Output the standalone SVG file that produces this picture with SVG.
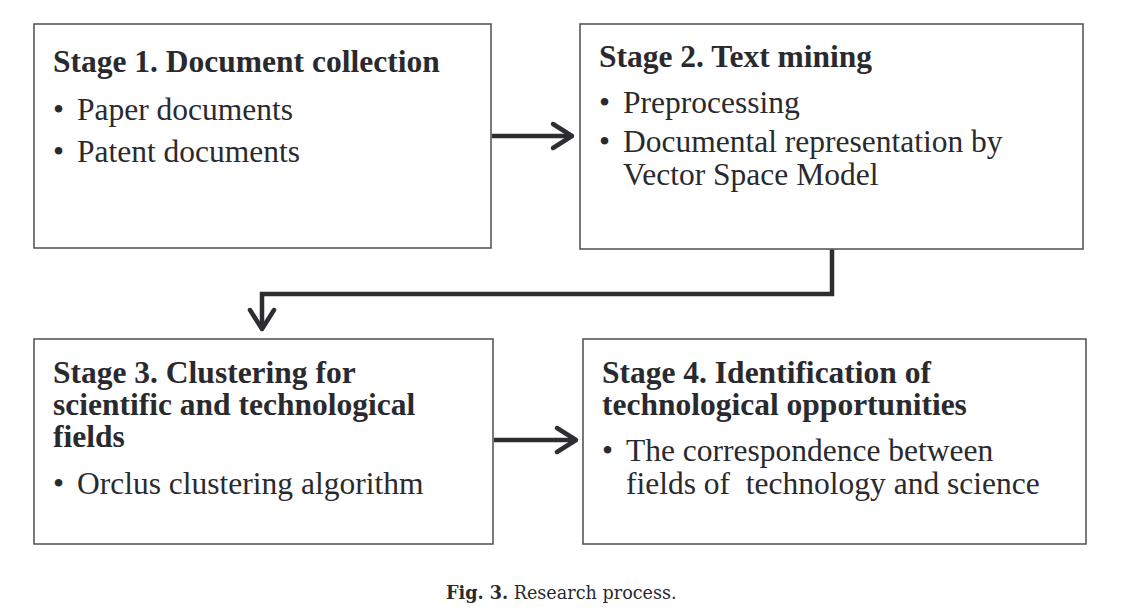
<svg xmlns="http://www.w3.org/2000/svg" width="1136" height="614" viewBox="0 0 1136 614">
<defs>
<style>
.box{fill:#fff;stroke:#58585c;stroke-width:1.6}
.t{font-family:"Liberation Serif","Times New Roman",serif;font-weight:bold;font-size:31.5px;fill:#2a2a2e}
.b{font-family:"Liberation Serif","Times New Roman",serif;font-size:31.5px;fill:#2a2a2e}
.c{fill:none;stroke:#2e2e32;stroke-width:4.5;stroke-linejoin:miter}
.h{fill:none;stroke:#2e2e32;stroke-width:4.5;stroke-linecap:round;stroke-linejoin:round}
.cap{font-family:"DejaVu Serif",serif;font-size:17.6px;fill:#2a2a2e}
</style>
</defs>
<rect width="1136" height="614" fill="#fff"/>
<g id="connectors">
<line class="c" x1="492" y1="136" x2="570" y2="136"/>
<polyline class="h" points="553,124 572,136 553,148"/>
<polyline class="c" points="832,249 832,294 262,294 262,327"/>
<polyline class="h" points="250,310 262,329 274,310"/>
<line class="c" x1="494" y1="440" x2="574" y2="440"/>
<polyline class="h" points="557,428 576,440 557,452"/>
</g>
<g id="stage1">
<rect class="box" x="34" y="24" width="457" height="224"/>
<text class="t" x="53" y="72">Stage 1. Document collection</text>
<text class="b" x="53" y="120">•</text><text class="b" x="77" y="120">Paper documents</text>
<text class="b" x="53" y="162">•</text><text class="b" x="77" y="162">Patent documents</text>
</g>
<g id="stage2">
<rect class="box" x="580" y="24" width="503" height="225"/>
<text class="t" x="599" y="67">Stage 2. Text mining</text>
<text class="b" x="599" y="113">•</text><text class="b" x="623" y="113">Preprocessing</text>
<text class="b" x="599" y="152">•</text><text class="b" x="623" y="152">Documental representation by</text>
<text class="b" x="623" y="185">Vector Space Model</text>
</g>
<g id="stage3">
<rect class="box" x="34" y="339" width="459" height="205"/>
<text class="t" x="53" y="383">Stage 3. Clustering for</text>
<text class="t" x="53" y="415">scientific and technological</text>
<text class="t" x="53" y="447">fields</text>
<text class="b" x="53" y="494">•</text><text class="b" x="77" y="494">Orclus clustering algorithm</text>
</g>
<g id="stage4">
<rect class="box" x="583" y="339" width="503" height="205"/>
<text class="t" x="602" y="383">Stage 4. Identification of</text>
<text class="t" x="602" y="415">technological opportunities</text>
<text class="b" x="602" y="461">•</text><text class="b" x="626" y="461">The correspondence between</text>
<text class="b" x="626" y="494" xml:space="preserve">fields of  technology and science</text>
</g>
<text class="cap" x="446" y="599"><tspan font-weight="bold">Fig. 3.</tspan> Research process.</text>
</svg>
